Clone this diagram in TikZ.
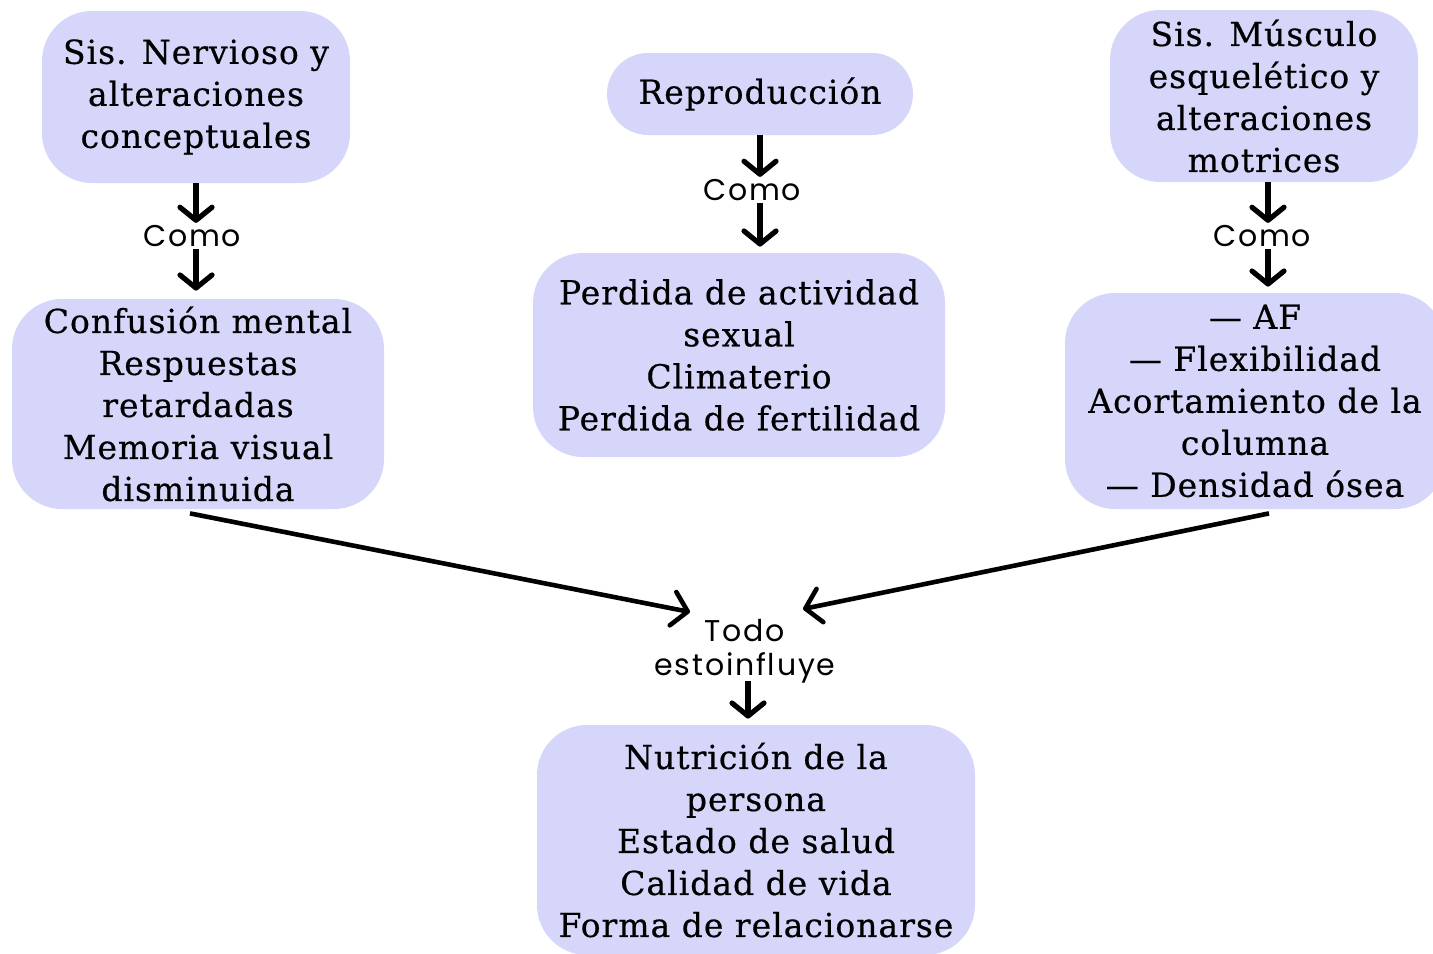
\documentclass[tikz,border=0pt]{standalone}
\usepackage{fontspec}
\usetikzlibrary{arrows.meta}
\newfontfamily\boxfont[LetterSpace=3,FakeBold=0.5]{DejaVu Serif}
\newfontfamily\labfont[LetterSpace=6]{Poppins}
\definecolor{boxfill}{RGB}{214,214,250}
\tikzset{
  box/.style={fill=boxfill, draw=none, rounded corners=25pt, align=center, inner sep=0pt,
    font=\boxfont\fontsize{16.5}{21}\selectfont},
  lab/.style={align=center, inner sep=1pt, font=\labfont\fontsize{15}{17}\selectfont},
  arr/.style={line width=2.6pt, -{Straight Barb[length=6.5pt,width=16pt,round]}},
  darr/.style={line width=2.3pt, -{Straight Barb[length=7.5pt,width=17pt,round]}}
}
\begin{document}
\begin{tikzpicture}[x=0.5pt,y=-0.5pt]
\useasboundingbox (0,0) rectangle (1433,953);
% boxes
\node[box, minimum width=154pt, minimum height=86pt] (A) at (196,97)
  {Sis. Nervioso y\\alteraciones\\conceptuales};
\node[box, rounded corners=20.5pt, minimum width=153pt, minimum height=41pt] (B) at (760,94)
  {Reproducción};
\node[box, minimum width=154pt, minimum height=86pt] (C) at (1264,96)
  {Sis. Músculo\\esquelético y\\alteraciones\\motrices};
\node[box, minimum width=186pt, minimum height=105pt] (D) at (198,404)
  {Confusión mental\\Respuestas\\retardadas\\Memoria visual\\disminuida};
\node[box, minimum width=206pt, minimum height=102pt] (E) at (739,355)
  {Perdida de actividad\\sexual\\Climaterio\\Perdida de fertilidad};
\node[box, minimum width=190pt, minimum height=108pt] (F) at (1255,401)
  {— AF\\— Flexibilidad\\Acortamiento de la\\columna\\— Densidad ósea};
\node[box, minimum width=219pt, minimum height=115pt] (G) at (756,840)
  {Nutrición de la\\persona\\Estado de salud\\Calidad de vida\\Forma de relacionarse};
% labels
\node[lab] (cA) at (192,236) {Como};
\node[lab] (cB) at (752,190) {Como};
\node[lab] (cC) at (1262,236) {Como};
\node[lab] (T) at (745,651) {Todo\\estoinfluye};
\coordinate (tl) at (690,612);
\coordinate (tr) at (803,609);
% arrows
\draw[arr] (A.south) -- (A.south |- cA.north);
\draw[arr] (A.south |- cA.south) -- ([yshift=4pt]A.south |- D.north);
\draw[arr] (B.south) -- (B.south |- cB.north);
\draw[arr] (B.south |- cB.south) -- ([yshift=3pt]B.south |- E.north);
\draw[arr] ([xshift=2pt]C.south) -- ([xshift=2pt]C.south |- cC.north);
\draw[arr] ([xshift=2pt]C.south |- cC.south) -- ([xshift=2pt,yshift=3pt]C.south |- F.north);
\draw[darr] ([xshift=-4pt,yshift=-2pt]D.south) -- (tl);
\draw[darr] ([xshift=7pt,yshift=-2pt]F.south) -- (tr);
\draw[arr] ([xshift=-4pt,yshift=2pt]T.south -| G.north) -- ([xshift=-4pt,yshift=3pt]G.north);
\end{tikzpicture}
\end{document}
